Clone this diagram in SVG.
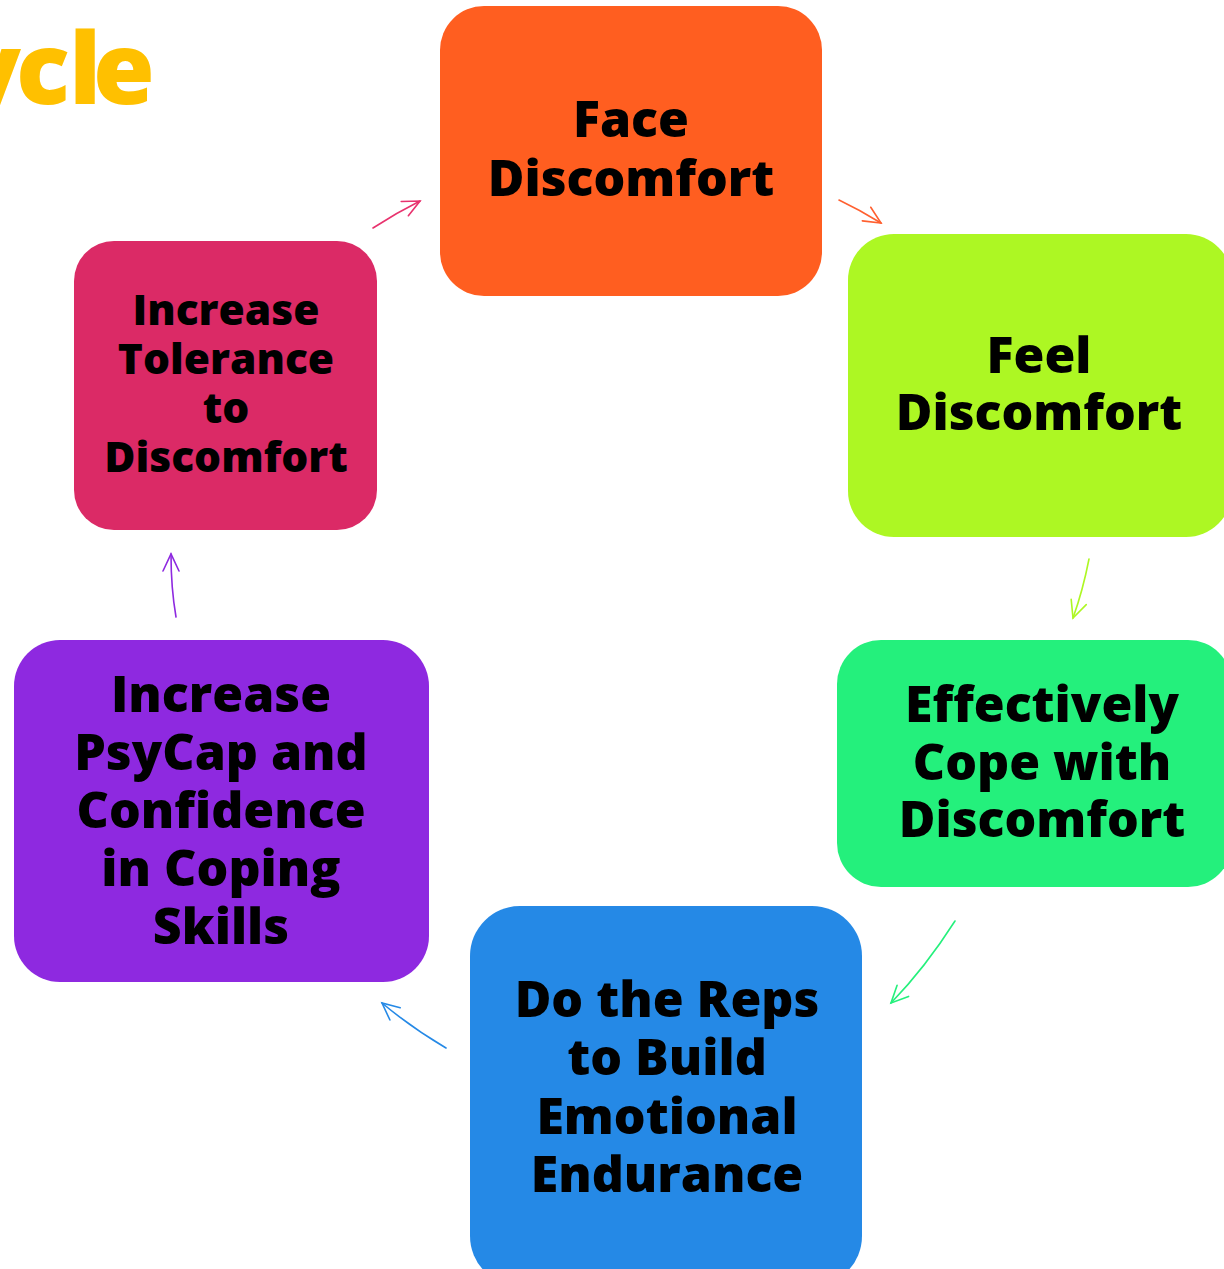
<svg xmlns="http://www.w3.org/2000/svg" width="1224" height="1269" viewBox="0 0 1224 1269">
<style>
.lbl{font-family:"Open Sans","Liberation Sans",sans-serif;font-weight:800;fill:#000;text-anchor:middle}
.big{font-size:50px}
.sm{font-size:42.5px}
.title{font-family:"Open Sans","Liberation Sans",sans-serif;font-weight:800;font-size:100px;fill:#FFC000}
.c{fill:none;stroke-width:1.6;stroke-linecap:round}
</style>
<defs>
<marker id="mPink" markerWidth="24" markerHeight="24" refX="0" refY="0" viewBox="-20 -12 24 24" orient="auto" markerUnits="userSpaceOnUse"><path d="M-17,-8 L0,0 L-17,8" fill="none" stroke="#E8336E" stroke-width="1.6" stroke-linecap="round"/></marker>
<marker id="mOrange" markerWidth="24" markerHeight="24" refX="0" refY="0" viewBox="-20 -12 24 24" orient="auto" markerUnits="userSpaceOnUse"><path d="M-17,-8 L0,0 L-17,8" fill="none" stroke="#FF6030" stroke-width="1.6" stroke-linecap="round"/></marker>
<marker id="mLime" markerWidth="24" markerHeight="24" refX="0" refY="0" viewBox="-20 -12 24 24" orient="auto" markerUnits="userSpaceOnUse"><path d="M-17,-8 L0,0 L-17,8" fill="none" stroke="#ADF723" stroke-width="1.6" stroke-linecap="round"/></marker>
<marker id="mGreen" markerWidth="24" markerHeight="24" refX="0" refY="0" viewBox="-20 -12 24 24" orient="auto" markerUnits="userSpaceOnUse"><path d="M-17,-8 L0,0 L-17,8" fill="none" stroke="#24F07C" stroke-width="1.6" stroke-linecap="round"/></marker>
<marker id="mBlue" markerWidth="24" markerHeight="24" refX="0" refY="0" viewBox="-20 -12 24 24" orient="auto" markerUnits="userSpaceOnUse"><path d="M-17,-8 L0,0 L-17,8" fill="none" stroke="#2589E6" stroke-width="1.6" stroke-linecap="round"/></marker>
<marker id="mPurple" markerWidth="24" markerHeight="24" refX="0" refY="0" viewBox="-20 -12 24 24" orient="auto" markerUnits="userSpaceOnUse"><path d="M-17,-8 L0,0 L-17,8" fill="none" stroke="#8E29E0" stroke-width="1.6" stroke-linecap="round"/></marker>
</defs>
<rect width="1224" height="1269" fill="#fff"/>
<text class="title" x="-40 16 69 93" y="104">ycle</text>

<g id="connectors">
<path class="c" stroke="#E8336E" d="M373,228 Q396,213 420,201" marker-end="url(#mPink)"/>
<path class="c" stroke="#FF6030" d="M839,200 Q860,210 881,223" marker-end="url(#mOrange)"/>
<path class="c" stroke="#ADF723" d="M1089,559 Q1083,590 1073,618" marker-end="url(#mLime)"/>
<path class="c" stroke="#24F07C" d="M955,921 Q925,968 891,1003" marker-end="url(#mGreen)"/>
<path class="c" stroke="#2589E6" d="M446,1048 Q412,1028 382,1003" marker-end="url(#mBlue)"/>
<path class="c" stroke="#8E29E0" d="M176,617 Q171,588 171,554" marker-end="url(#mPurple)"/>
</g>

<g id="face">
<rect x="440" y="6" width="382" height="290" rx="44" fill="#FF5E20"/>
<text class="lbl big" x="631" y="137">Face</text>
<text class="lbl big" x="631" y="196">Discomfort</text>
</g>
<g id="feel">
<rect x="848" y="234" width="384" height="303" rx="46" fill="#ADF723"/>
<text class="lbl big" x="1039" y="373">Feel</text>
<text class="lbl big" x="1039" y="430">Discomfort</text>
</g>
<g id="cope">
<rect x="837" y="640" width="395" height="247" rx="44" fill="#24F07C"/>
<text class="lbl big" x="1042" y="722">Effectively</text>
<text class="lbl big" x="1042" y="780">Cope with</text>
<text class="lbl big" x="1042" y="837">Discomfort</text>
</g>
<g id="reps">
<rect x="470" y="906" width="392" height="380" rx="50" fill="#2589E6"/>
<text class="lbl big" x="667" y="1017">Do the Reps</text>
<text class="lbl big" x="667" y="1075">to Build</text>
<text class="lbl big" x="667" y="1134">Emotional</text>
<text class="lbl big" x="667" y="1192">Endurance</text>
</g>
<g id="psycap">
<rect x="14" y="640" width="415" height="342" rx="46" fill="#8E29E0"/>
<text class="lbl big" x="221" y="712">Increase</text>
<text class="lbl big" x="221" y="770">PsyCap and</text>
<text class="lbl big" x="221" y="828">Confidence</text>
<text class="lbl big" x="221" y="886">in Coping</text>
<text class="lbl big" x="221" y="944">Skills</text>
</g>
<g id="tolerance">
<rect x="74" y="241" width="303" height="289" rx="40" fill="#DB2A66"/>
<text class="lbl sm" x="226" y="325">Increase</text>
<text class="lbl sm" x="226" y="374">Tolerance</text>
<text class="lbl sm" x="226" y="423">to</text>
<text class="lbl sm" x="226" y="472">Discomfort</text>
</g>
</svg>
